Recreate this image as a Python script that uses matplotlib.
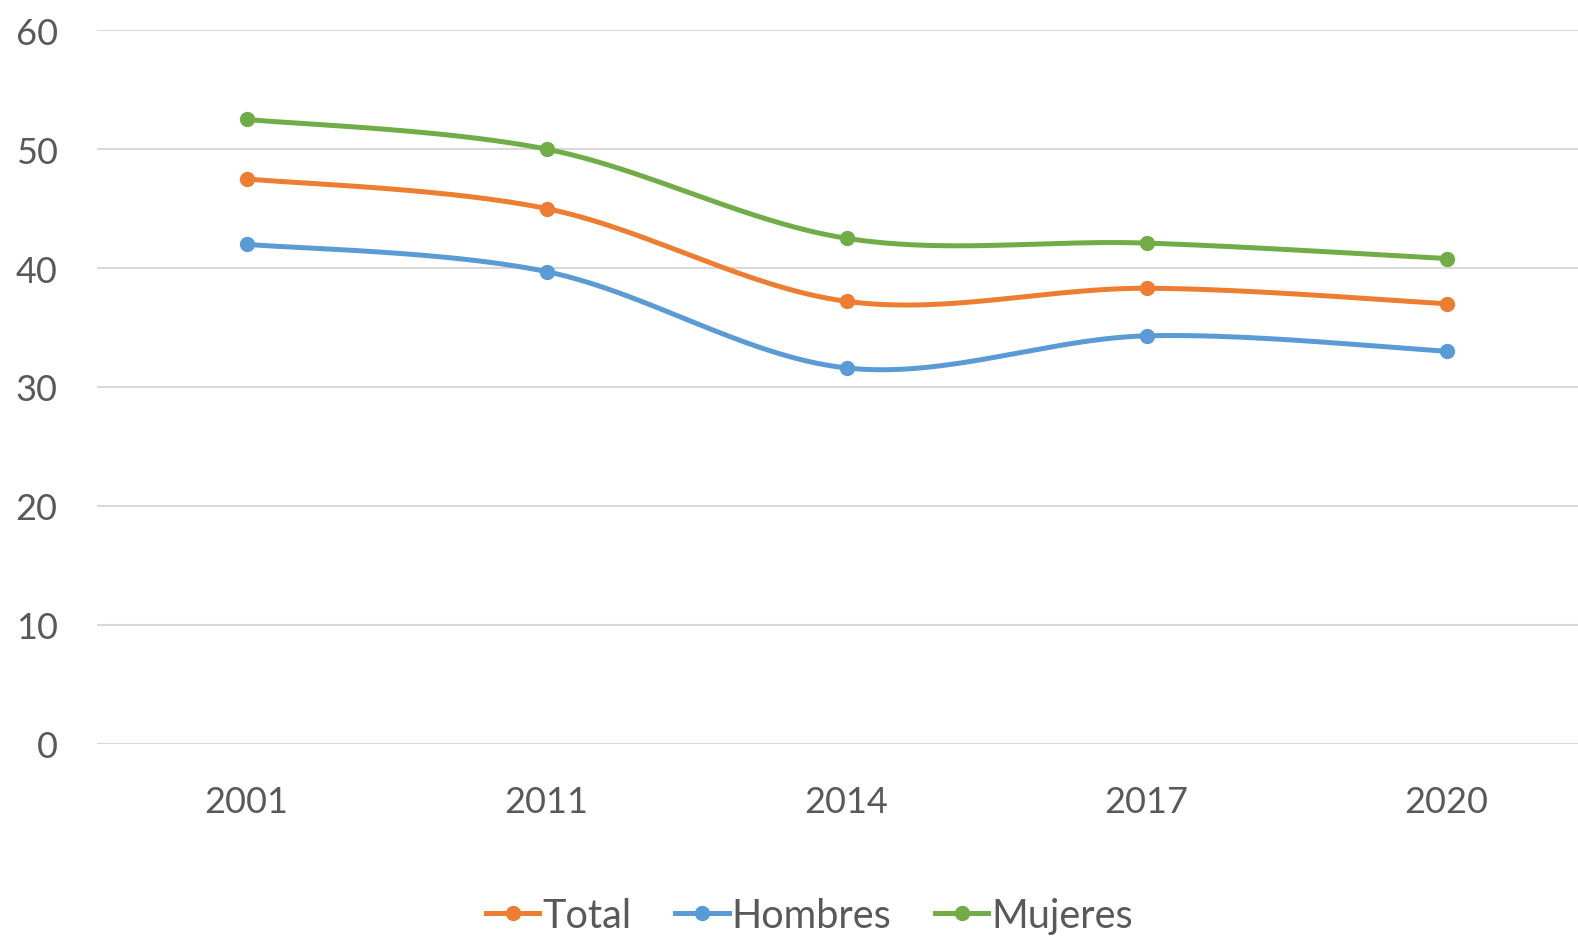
import numpy as np
import matplotlib.pyplot as plt
from matplotlib.lines import Line2D

# datos
years = ['2001', '2011', '2014', '2017', '2020']
total = [47.5, 45.0, 37.2, 38.3, 37.0]
hombres = [42.0, 39.7, 31.6, 34.3, 33.0]
mujeres = [52.5, 50.0, 42.5, 42.1, 40.8]

series = [('Total', total, '#ED7D31'),
          ('Hombres', hombres, '#5B9BD5'),
          ('Mujeres', mujeres, '#70AD47')]


# curva suavizada tipo Excel (Bezier con puntos de control Catmull-Rom)
def smooth(xs, ys, n=60):
    pts = np.column_stack([xs, ys]).astype(float)
    out = []
    for i in range(len(pts) - 1):
        p0 = pts[i - 1] if i > 0 else pts[i]
        p1 = pts[i]
        p2 = pts[i + 1]
        p3 = pts[i + 2] if i + 2 < len(pts) else pts[i + 1]
        c1 = p1 + (p2 - p0) / 6
        c2 = p2 - (p3 - p1) / 6
        t = np.linspace(0, 1, n)[:, None]
        seg = ((1 - t) ** 3 * p1 + 3 * (1 - t) ** 2 * t * c1
               + 3 * (1 - t) * t ** 2 * c2 + t ** 3 * p2)
        out.append(seg)
    seg = np.vstack(out)
    return seg[:, 0], seg[:, 1]


plt.rcParams['font.family'] = ['Lato', 'DejaVu Sans']
fig = plt.figure(figsize=(15.78, 9.37), dpi=100)
ax = fig.add_axes([0.0612, 0.2052, 0.9506, 0.7615])

x = np.arange(len(years))
handles = []
for name, vals, color in series:
    sx, sy = smooth(x, vals)
    ax.plot(sx, sy, color=color, lw=3.6, solid_capstyle='round', zorder=3)
    ax.plot(x, vals, 'o', color=color, ms=10, zorder=4)
    handles.append(Line2D([], [], color=color, lw=3.6, marker='o', ms=10, label=name))

ax.set_xlim(-0.5, 4.5)
ax.set_ylim(0, 60)
ax.set_xticks(x)
ax.set_xticklabels(years)
ax.set_yticks(np.arange(0, 61, 10))
ax.grid(axis='y', color='#D9D9D9', lw=1.5)
ax.set_axisbelow(True)
for s in ax.spines.values():
    s.set_visible(False)
ax.tick_params(axis='both', length=0, labelsize=26, colors='#595959')
ax.tick_params(axis='x', pad=30)
ax.tick_params(axis='y', pad=28)

fig.legend(handles=handles, loc='center', bbox_to_anchor=(0.513, 0.022),
           ncol=3, frameon=False, fontsize=28.5, labelcolor='#595959',
           handlelength=1.35, handletextpad=0.08, columnspacing=1.1,
           borderpad=0)

fig.savefig('out.png', dpi=100)
